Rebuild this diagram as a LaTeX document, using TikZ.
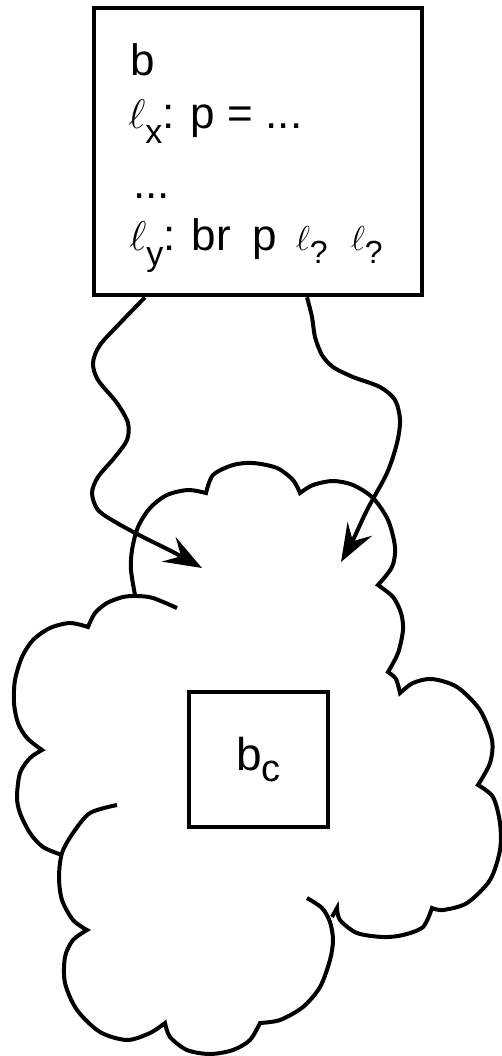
\documentclass[tikz,border=0pt]{standalone}
\usepackage{fontspec}
\setmainfont{Liberation Sans}
\usetikzlibrary{arrows.meta,positioning}
\tikzset{
    blk/.style={draw, line width=2.3pt, inner sep=0pt},
    txt/.style={anchor=base west, inner sep=0pt},
    flow/.style={line width=2pt, -{Stealth[length=19pt,width=14pt,inset=7pt]}},
    puff/.style={line width=2pt, line join=miter}
}
\newcommand{\fsz}[1]{\fontsize{#1}{#1}\selectfont}
\newcommand{\ellsub}[4]{{\fsz{#1}$\ell$}\raisebox{-#3}{\fsz{#2}#4}}

\begin{document}
\begin{tikzpicture}[x=0.5pt, y=-0.5pt]
    \useasboundingbox (0,0) rectangle (502,1056);

    % block b
    \node[blk, minimum width=164pt, minimum height=143.5pt] (code) at (258,151.5) {};
    \node[txt, font=\fsz{22pt}] (ttl) at (130,75) {b};
    \node[txt, font=\fsz{22pt}] (defx) at (128,128) {\ellsub{21pt}{17pt}{7.5pt}{x}: p = ...};
    \node[txt, font=\fsz{22pt}] (dots) at (133,198) {...};
    \node[txt, font=\fsz{22pt}] (brp) at (129,250)
        {\ellsub{21pt}{17pt}{7.5pt}{y}: br\hspace{10.6pt}p\hspace{9.5pt}\ellsub{18pt}{16pt}{6.5pt}{?}\hspace{11.5pt}\ellsub{18pt}{16pt}{6.5pt}{?}};

    % block b_c
    \node[blk, minimum width=69.5pt, minimum height=67.5pt, font=\fsz{23pt}] (bc) at (258.5,759.5)
        {b\raisebox{-5.5pt}{\fsz{19pt}c}};

    % the cloud round b_c
    \draw[puff] plot[smooth] coordinates {(135,595) (131,570) (132,550) (138,527) (150,508) (167,495) (188,490) (206,493)}
        -- plot[smooth] coordinates {(206,493) (213,475) (233,465) (253,463) (277,468) (293,480) (300,493)}
        -- plot[smooth] coordinates {(300,493) (313,485) (333,481) (353,485) (373,498) (388,520) (395,547) (392,567) (378,585)}
        -- plot[smooth] coordinates {(378,585) (393,597) (401,613) (403,630) (398,653) (388,672)}
        -- plot[smooth] coordinates {(388,672) (396,679) (400,693)}
        -- plot[smooth] coordinates {(400,693) (413,683) (432,679) (457,687) (480,710) (492,740) (490,763) (478,785)}
        -- plot[smooth] coordinates {(478,785) (493,797) (500,823) (500,850) (490,880) (467,903) (443,910) (432,908)}
        -- plot[smooth] coordinates {(432,908) (423,927) (403,935) (383,937) (357,933) (340,920) (337,908)}
        -- (332,917);
    \draw[puff] plot[smooth] coordinates {(307,898) (322,908) (330,922) (333,940) (330,960) (320,987) (303,1007) (280,1020) (260,1023)}
        -- plot[smooth] coordinates {(260,1023) (250,1040) (233,1050) (210,1054) (187,1050) (170,1037) (165,1023)}
        -- plot[smooth] coordinates {(165,1023) (150,1033) (127,1040) (100,1032) (77,1010) (65,983) (65,957) (73,940) (87,930)}
        -- plot[smooth] coordinates {(87,930) (73,920) (62,900) (59,877) (62,853) (73,833) (90,813) (117,805)};
    \draw[puff] plot[smooth] coordinates {(62,855) (43,847) (30,833) (20,813) (17,797) (20,773) (30,758) (42,750)}
        -- plot[smooth] coordinates {(42,750) (27,738) (18,723) (14,703) (15,680) (22,657) (33,640) (50,628) (70,623) (88,627)}
        -- plot[smooth] coordinates {(88,627) (95,613) (107,603) (123,597) (137,596) (153,598) (177,608)};

    % flows from b into the cloud
    \coordinate (lin) at (202,568);
    \coordinate (rin) at (341,562);
    \draw[flow] plot[smooth] coordinates {([xshift=-56.5pt]code.south) (123,320) (100,345) (93,363) (98,380) (117,403)
        (128,423) (127,440) (115,457) (98,477) (92,493) (98,510) (117,523) (143,537) (173,552) (lin)};
    \draw[flow] plot[smooth] coordinates {([xshift=24.5pt]code.south) (312,317) (315,337) (322,355) (333,367) (353,377)
        (380,387) (395,400) (400,420) (397,443) (387,473) (367,510) (353,540) (rin)};
\end{tikzpicture}
\end{document}
